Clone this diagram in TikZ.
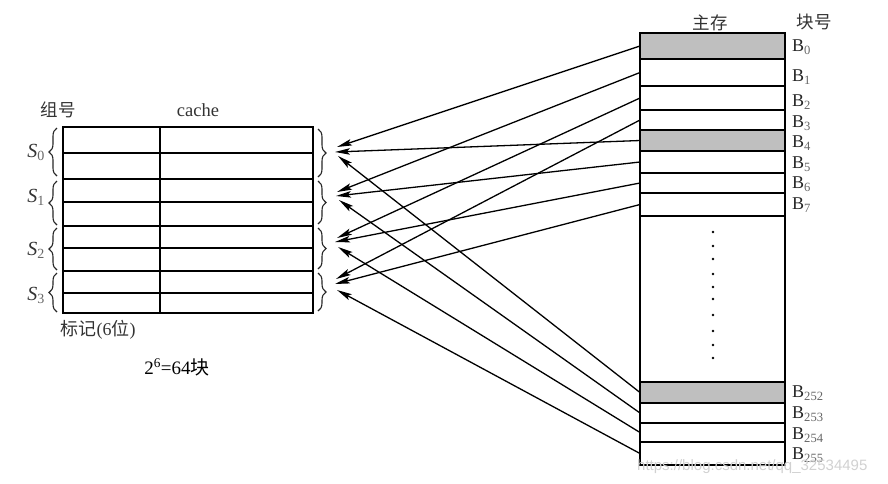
\documentclass[tikz,border=0pt]{standalone}
\usepackage{fontspec}
\setmainfont{Liberation Serif}
\newfontfamily\cjk{Noto Sans CJK SC}
\newfontfamily\wmfont{Liberation Sans}
\usetikzlibrary{arrows.meta,decorations.pathreplacing}
\begin{document}
\begin{tikzpicture}[x=1pt,y=-1pt,
  blk/.style={draw, line width=1.8pt, minimum width=145pt, inner sep=0pt, outer sep=0pt},
  shd/.style={blk, fill=black!25},
  row/.style={draw, line width=1.7pt, minimum width=250pt, inner sep=0pt, outer sep=0pt},
  arr/.style={line width=1.3pt, -{Stealth[length=15pt,width=6.5pt,inset=3pt]}},
  lab/.style={anchor=west, inner sep=0pt, font=\fontsize{18}{20}\selectfont, text=black!85},
  cj/.style={inner sep=0pt, font=\fontsize{17.5}{19}\selectfont, text=black!80},
  setlab/.style={anchor=east, inner sep=0pt, font=\fontsize{20}{22}\selectfont\itshape, text=black!80},
  brc/.style={decorate, decoration={brace, amplitude=8pt, aspect=0.5}, line width=1.1pt, black!85},
]
\useasboundingbox (0,0) rectangle (888,483);
% ---------- main memory ----------
\node[shd, minimum height=26pt] (b0) at (712.5,46) {};
\node[blk, minimum height=27pt] (b1) at (712.5,72.5) {};
\node[blk, minimum height=24pt] (b2) at (712.5,98) {};
\node[blk, minimum height=20pt] (b3) at (712.5,120) {};
\node[shd, minimum height=21pt] (b4) at (712.5,140.5) {};
\node[blk, minimum height=22pt] (b5) at (712.5,162) {};
\node[blk, minimum height=20pt] (b6) at (712.5,183) {};
\node[blk, minimum height=23pt] (b7) at (712.5,204.5) {};
\node[blk, minimum height=166pt] (gap) at (712.5,299) {};
\node[shd, minimum height=21pt] (b252) at (712.5,392.5) {};
\node[blk, minimum height=20pt] (b253) at (712.5,413) {};
\node[blk, minimum height=19pt] (b254) at (712.5,432.5) {};
\node[blk, minimum height=23pt] (b255) at (712.5,453.5) {};
\draw[line width=2.4pt] (b0.north west) rectangle (b255.south east);
\foreach \yy in {232,246,259,274,287,299,315,331,345,358}
  \fill (713,\yy) circle (1.4pt);
% labels
\node[cj] (zc) at (710,23) {\cjk 主存};
\node[cj] (kh) at (814,22) {\cjk 块号};
\node[lab] (l0) at (792,47) {B{\color{black!60}\textsubscript{0}}};
\node[lab] (l1) at (792,77) {B{\color{black!60}\textsubscript{1}}};
\node[lab] (l2) at (792,102) {B{\color{black!60}\textsubscript{2}}};
\node[lab] (l3) at (792,123) {B{\color{black!60}\textsubscript{3}}};
\node[lab] (l4) at (792,143) {B{\color{black!60}\textsubscript{4}}};
\node[lab] (l5) at (792,164) {B{\color{black!60}\textsubscript{5}}};
\node[lab] (l6) at (792,184) {B{\color{black!60}\textsubscript{6}}};
\node[lab] (l7) at (792,205) {B{\color{black!60}\textsubscript{7}}};
\node[lab] (l252) at (792,393) {B{\color{black!60}\textsubscript{252}}};
\node[lab] (l253) at (792,414) {B{\color{black!60}\textsubscript{253}}};
\node[lab] (l254) at (792,435) {B{\color{black!60}\textsubscript{254}}};
\node[lab] (l255) at (792,455) {B{\color{black!60}\textsubscript{255}}};
% ---------- cache ----------
\node[row, minimum height=26pt] (r0) at (188,140) {};
\node[row, minimum height=26pt] (r1) at (188,166) {};
\node[row, minimum height=23pt] (r2) at (188,190.5) {};
\node[row, minimum height=24pt] (r3) at (188,214) {};
\node[row, minimum height=22pt] (r4) at (188,237) {};
\node[row, minimum height=23pt] (r5) at (188,259.5) {};
\node[row, minimum height=22pt] (r6) at (188,282) {};
\node[row, minimum height=20pt] (r7) at (188,303) {};
\draw[line width=2.3pt] (r0.north west) rectangle (r7.south east);
\draw[line width=2pt] (160,127) -- (160,313);
\node[cj] (zh) at (58,110) {\cjk 组号};
\node[cj, font=\fontsize{18.5}{20}\selectfont] (ca) at (198,110) {cache};
\node[cj, font=\fontsize{18}{20}\selectfont] (bj) at (98,330) {{\cjk 标记}(6{\cjk 位})};
\node[cj, text=black, font=\fontsize{19}{21}\selectfont] (nb) at (177,367) {2\textsuperscript{6}=64{\cjk 块}};
% left braces and set labels
\draw[brc] (57,176) -- (57,128);
\draw[brc] (57,225) -- (57,181);
\draw[brc] (57,270) -- (57,228);
\draw[brc] (57,312) -- (57,273);
\node[setlab] (s0) at (45,152) {S{\upshape\color{black!60}\textsubscript{0}}};
\node[setlab] (s1) at (45,197) {S{\upshape\color{black!60}\textsubscript{1}}};
\node[setlab] (s2) at (45,250) {S{\upshape\color{black!60}\textsubscript{2}}};
\node[setlab] (s3) at (45,295) {S{\upshape\color{black!60}\textsubscript{3}}};
% right braces
\draw[brc] (318,129) -- (318,177);
\draw[brc] (318,181) -- (318,224);
\draw[brc] (318,228) -- (318,269);
\draw[brc] (318,273) -- (318,311);
% arrow targets
\coordinate (t0a) at (337,147); \coordinate (t0b) at (335,152); \coordinate (t0c) at (338,156);
\coordinate (t1a) at (337,192); \coordinate (t1b) at (336,196); \coordinate (t1c) at (339,200);
\coordinate (t2a) at (337,238); \coordinate (t2b) at (335,242); \coordinate (t2c) at (338,247);
\coordinate (t3a) at (336,279); \coordinate (t3b) at (335,284); \coordinate (t3c) at (337,290);
% arrows
\draw[arr] (b0.west) -- (t0a);
\draw[arr] (b1.west) -- (t1a);
\draw[arr] (b2.west) -- (t2a);
\draw[arr] (b3.west) -- (t3a);
\draw[arr] (b4.west) -- (t0b);
\draw[arr] (b5.west) -- (t1b);
\draw[arr] (b6.west) -- (t2b);
\draw[arr] (b7.west) -- (t3b);
\draw[arr] (b252.west) -- (t0c);
\draw[arr] (b253.west) -- (t1c);
\draw[arr] (b254.west) -- (t2c);
\draw[arr] (b255.west) -- (t3c);
% watermark
\node[anchor=west, inner sep=0pt, font=\wmfont\fontsize{15}{17}\selectfont, text=black!18] (wm) at (637,467) {https://blog.csdn.net/qq\_32534495};
\end{tikzpicture}
\end{document}
